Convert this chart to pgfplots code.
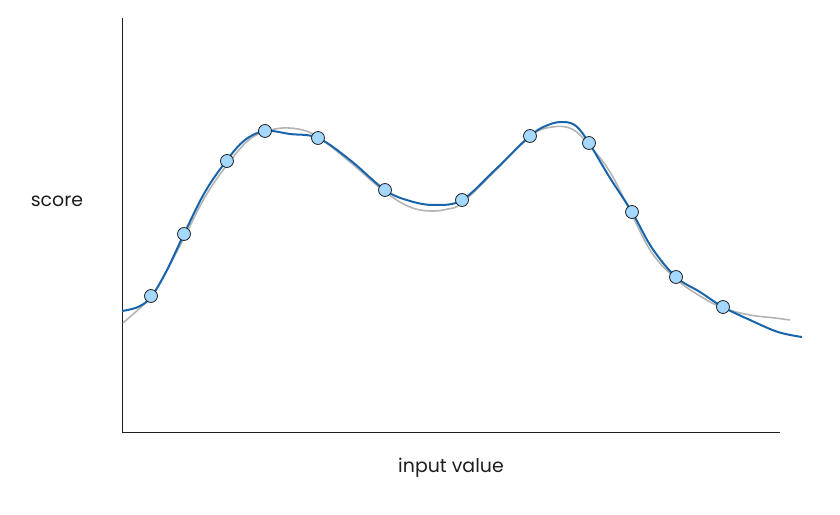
\documentclass[border=0pt]{standalone}
\usepackage{fontspec}
\setmainfont{Poppins}
\usepackage{pgfplots}
\pgfplotsset{compat=1.18}
\definecolor{fitblue}{HTML}{1864AB}
\definecolor{ptfill}{HTML}{A5D8FF}
\definecolor{truegrey}{HTML}{B4B4B4}
\definecolor{ink}{HTML}{1E1E1E}
\begin{document}
\begin{tikzpicture}
\path[use as bounding box] (-122bp,-83bp) rectangle (718bp,432bp);
\begin{axis}[
  scale only axis, width=658bp, height=414bp,
  xmin=122, xmax=780, ymin=-432, ymax=-18,
  axis x line=bottom, axis y line=left,
  axis line style={-, ink, line width=1pt},
  xtick=\empty, ytick=\empty,
  clip=false,
]
% true function (grey)
\addplot[truegrey, line width=1.6pt, smooth, tension=0.6] coordinates {
(123,-323) (140,-308) (151,-297) (165,-274) (184,-238) (205,-197) (227,-165) (250,-139) (275,-129) (298,-129) (318,-137) (350,-162) (385,-192) (410,-207) (430,-211) (448,-209) (462,-203) (495,-171) (530,-136) (552,-127) (572,-129) (589,-145) (610,-172) (632,-215) (652,-253) (676,-279) (700,-296) (723,-308) (750,-315) (775,-318) (790,-320)
};
% fitted curve (blue)
\addplot[fitblue, line width=2pt, smooth, tension=0.6] coordinates {
(122,-311) (138,-307) (151,-297) (166,-272) (184,-234) (205,-192) (227,-160) (245,-140) (265,-131) (290,-134) (318,-138) (350,-160) (385,-190) (410,-201) (435,-205) (462,-200) (495,-170) (530,-136) (548,-125) (563,-122) (576,-126) (589,-143) (610,-178) (632,-212) (652,-248) (676,-277) (700,-292) (723,-307) (750,-320) (778,-332) (802,-337)
};
% observed points
\addplot[only marks, mark=*, mark size=6.5pt, mark options={fill=ptfill, draw=ink, line width=0.8pt}] coordinates {
(151,-296) (184,-234) (227,-161) (265,-131) (318,-138) (385,-190) (462,-200) (530,-136) (589,-143) (632,-212) (676,-277) (723,-307)
};
\node[font=\fontsize{19}{22}\selectfont, text=ink] at (axis cs:57,-201) {score};
\node[font=\fontsize{19}{22}\selectfont, text=ink] at (axis cs:451,-468) {input value};
\end{axis}
\end{tikzpicture}
\end{document}
